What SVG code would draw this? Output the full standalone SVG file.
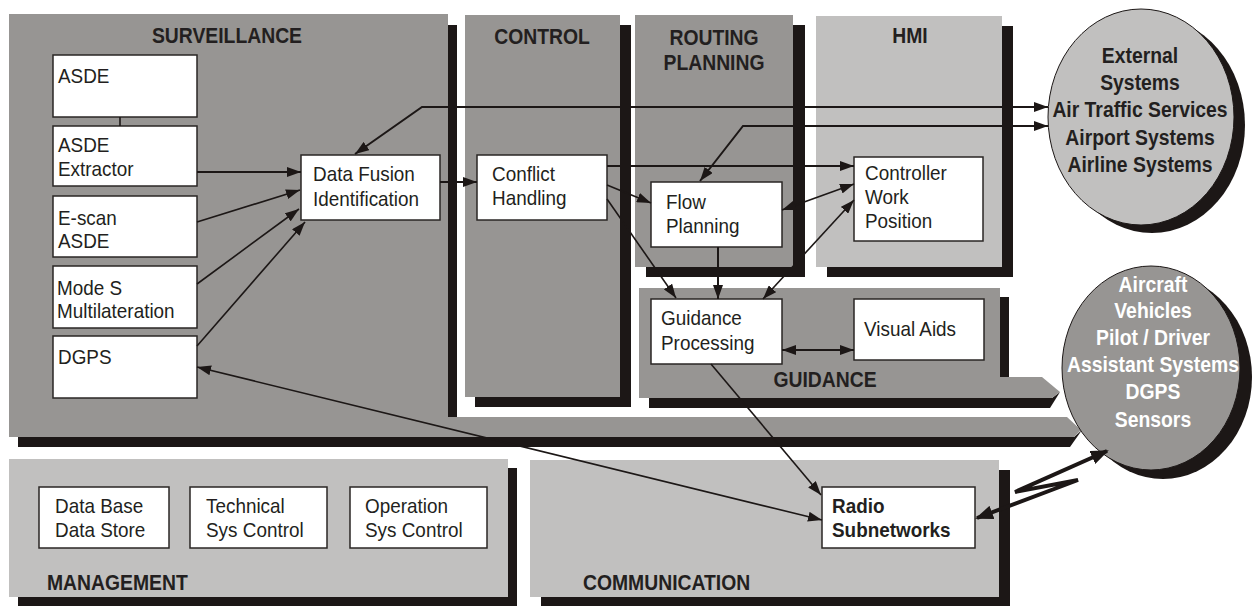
<svg xmlns="http://www.w3.org/2000/svg" width="1255" height="607" viewBox="0 0 1255 607">
<defs>
<style>
.sh{fill:#1c1716}
.dk{fill:#979593}
.lt{fill:#c1c0bf}
.box{fill:#ffffff;stroke:#2a2625;stroke-width:1.5}
text{font-family:"Liberation Sans",Arial,sans-serif;transform-box:fill-box;transform:scaleX(0.9)}
.t{font-size:21px;fill:#231f20;transform-origin:left center}
.tb{font-size:21px;font-weight:bold;fill:#231f20;transform-origin:left center}
.h{font-size:21.5px;font-weight:bold;fill:#231f20;transform-origin:left center}
.hc{font-size:21.5px;font-weight:bold;fill:#231f20;text-anchor:middle;transform-origin:center}
.hw{font-size:21.5px;font-weight:bold;fill:#ffffff;text-anchor:middle;transform-origin:center}
.c{fill:none;stroke:#1c1716;stroke-width:1.6}
.cw{fill:none;stroke:#1c1716;stroke-width:2}
.cb{fill:none;stroke:#1c1716;stroke-width:4;stroke-linejoin:miter}
</style>
<marker id="a" viewBox="0 0 14 10" refX="14" refY="5" markerWidth="14" markerHeight="10" markerUnits="userSpaceOnUse" orient="auto-start-reverse">
<path d="M0,0 L14,5 L0,10 Z" fill="#1c1716"/>
</marker>
<marker id="ab" viewBox="0 0 18 14" refX="16" refY="7" markerWidth="18" markerHeight="14" markerUnits="userSpaceOnUse" orient="auto-start-reverse">
<path d="M0,0 L18,7 L0,14 Z" fill="#1c1716"/>
</marker>
</defs>
<rect width="1255" height="607" fill="#ffffff"/>

<g id="surveillance">
<rect class="sh" x="18" y="25" width="439" height="412"/>
<path class="sh" d="M18,437 H1074 L1082,430 L1070,447 H18 Z"/>
<path class="dk" d="M9,14 H448 V417 H1067 L1081,430 L1074,437 H9 Z"/>
<text class="hc" x="227" y="43">SURVEILLANCE</text>
</g>
<g id="control">
<rect class="sh" x="475" y="25" width="156" height="382"/>
<rect class="dk" x="465" y="15" width="155" height="382"/>
<text class="hc" x="542" y="44">CONTROL</text>
</g>
<g id="routing">
<rect class="sh" x="646" y="25" width="159" height="252"/>
<rect class="dk" x="635" y="15" width="158" height="252"/>
<text class="hc" x="714" y="45">ROUTING</text>
<text class="hc" x="714" y="70">PLANNING</text>
</g>
<g id="hmi">
<rect class="sh" x="827" y="26" width="186" height="251"/>
<rect class="lt" x="816" y="16" width="186" height="251"/>
<text class="hc" x="910" y="43">HMI</text>
</g>
<g id="guidance">
<rect class="sh" x="649" y="297" width="360" height="80"/>
<path class="sh" d="M649,398 H1052 L1060,392 L1050,408 H649 Z"/>
<rect class="dk" x="639" y="288" width="361" height="110"/>
<path class="dk" d="M999,377 H1042 L1060,392 L1052,398 H999 Z"/>
<text class="hc" x="825" y="387">GUIDANCE</text>
</g>
<g id="management">
<rect class="sh" x="18" y="468" width="499" height="138"/>
<rect class="lt" x="9" y="459" width="499" height="138"/>
<text class="h" x="47" y="590">MANAGEMENT</text>
</g>
<g id="communication">
<rect class="sh" x="541" y="470" width="469" height="136"/>
<rect class="lt" x="530" y="460" width="469" height="137"/>
<text class="h" x="583" y="590">COMMUNICATION</text>
</g>

<g id="external">
<ellipse class="sh" cx="1152" cy="125" rx="93" ry="108"/>
<ellipse cx="1141" cy="117" rx="93" ry="108" fill="#c1c0bf" stroke="#1c1716" stroke-width="1"/>
<text class="hc" x="1140" y="63">External</text>
<text class="hc" x="1140" y="90">Systems</text>
<text class="hc" x="1140" y="117">Air Traffic Services</text>
<text class="hc" x="1140" y="145">Airport Systems</text>
<text class="hc" x="1140" y="172">Airline Systems</text>
</g>
<g id="aircraft">
<ellipse class="sh" cx="1163" cy="377" rx="89" ry="102"/>
<ellipse cx="1151" cy="368" rx="89" ry="102" fill="#979593" stroke="#1c1716" stroke-width="1"/>
<text class="hw" x="1153" y="292">Aircraft</text>
<text class="hw" x="1153" y="318">Vehicles</text>
<text class="hw" x="1153" y="345">Pilot / Driver</text>
<text class="hw" x="1153" y="372">Assistant Systems</text>
<text class="hw" x="1153" y="399">DGPS</text>
<text class="hw" x="1153" y="427">Sensors</text>
</g>

<g id="asde"><rect class="box" x="53" y="55" width="144" height="62"/><text class="t" x="58" y="83">ASDE</text></g>
<g id="asde-extractor"><rect class="box" x="53" y="126" width="144" height="60"/><text class="t" x="58" y="152">ASDE</text><text class="t" x="58" y="176">Extractor</text></g>
<g id="escan"><rect class="box" x="53" y="196" width="144" height="61"/><text class="t" x="58" y="225">E-scan</text><text class="t" x="58" y="248">ASDE</text></g>
<g id="modes"><rect class="box" x="53" y="266" width="144" height="62"/><text class="t" x="57" y="295">Mode S</text><text class="t" x="57" y="318">Multilateration</text></g>
<g id="dgps"><rect class="box" x="53" y="336" width="144" height="62"/><text class="t" x="58" y="364">DGPS</text></g>
<g id="datafusion"><rect class="box" x="301" y="155" width="139" height="65"/><text class="t" x="313" y="181">Data Fusion</text><text class="t" x="313" y="206">Identification</text></g>
<g id="conflict"><rect class="box" x="477" y="155" width="130" height="65"/><text class="t" x="492" y="181">Conflict</text><text class="t" x="492" y="205">Handling</text></g>
<g id="flow"><rect class="box" x="651" y="182" width="131" height="65"/><text class="t" x="666" y="209">Flow</text><text class="t" x="666" y="233">Planning</text></g>
<g id="controller"><rect class="box" x="854" y="157" width="129" height="84"/><text class="t" x="865" y="180">Controller</text><text class="t" x="865" y="204">Work</text><text class="t" x="865" y="228">Position</text></g>
<g id="guidance-processing"><rect class="box" x="651" y="299" width="131" height="65"/><text class="t" x="661" y="325">Guidance</text><text class="t" x="661" y="350">Processing</text></g>
<g id="visual-aids"><rect class="box" x="854" y="299" width="130" height="61"/><text class="t" x="864" y="336">Visual Aids</text></g>
<g id="database"><rect class="box" x="39" y="487" width="130" height="61"/><text class="t" x="55" y="513">Data Base</text><text class="t" x="55" y="537">Data Store</text></g>
<g id="technical"><rect class="box" x="190" y="487" width="137" height="61"/><text class="t" x="206" y="513">Technical</text><text class="t" x="206" y="537">Sys Control</text></g>
<g id="operation"><rect class="box" x="350" y="487" width="137" height="61"/><text class="t" x="365" y="513">Operation</text><text class="t" x="365" y="537">Sys Control</text></g>
<g id="radio"><rect class="box" x="822" y="487" width="153" height="61"/><text class="tb" x="832" y="513">Radio</text><text class="tb" x="832" y="537">Subnetworks</text></g>

<g id="connectors">
<line class="c" x1="120" y1="117" x2="120" y2="126"/>
<line class="cw" x1="197" y1="172" x2="301" y2="172" marker-end="url(#a)"/>
<line class="c" x1="197" y1="222" x2="300" y2="190" marker-end="url(#a)"/>
<line class="c" x1="197" y1="284" x2="299" y2="209" marker-end="url(#a)"/>
<line class="c" x1="197" y1="346" x2="305" y2="222" marker-end="url(#a)"/>
<polyline class="cw" points="1048,107 422,107 355,154" marker-start="url(#a)" marker-end="url(#a)"/>
<polyline class="cw" points="1048,126 743,126 700,181" marker-start="url(#a)" marker-end="url(#a)"/>
<line class="cw" x1="440" y1="182" x2="477" y2="182" marker-end="url(#a)"/>
<line class="cw" x1="607" y1="166" x2="854" y2="166" marker-end="url(#a)"/>
<line class="c" x1="607" y1="185" x2="651" y2="203" marker-end="url(#a)"/>
<line class="c" x1="607" y1="199" x2="676" y2="298" marker-end="url(#a)"/>
<line class="cw" x1="718" y1="247" x2="718" y2="299" marker-end="url(#a)"/>
<line class="c" x1="782" y1="210" x2="854" y2="184" marker-start="url(#a)" marker-end="url(#a)"/>
<line class="c" x1="854" y1="200" x2="763" y2="299" marker-start="url(#a)" marker-end="url(#a)"/>
<line class="cw" x1="782" y1="350" x2="854" y2="350" marker-start="url(#a)" marker-end="url(#a)"/>
<line class="c" x1="711" y1="364" x2="821" y2="495" marker-end="url(#a)"/>
<line class="c" x1="197" y1="367" x2="822" y2="520" marker-start="url(#a)" marker-end="url(#a)"/>
<polyline class="cb" points="977,518 1078,480 1015,492 1107,451" marker-start="url(#ab)" marker-end="url(#ab)"/>
</g>
</svg>
